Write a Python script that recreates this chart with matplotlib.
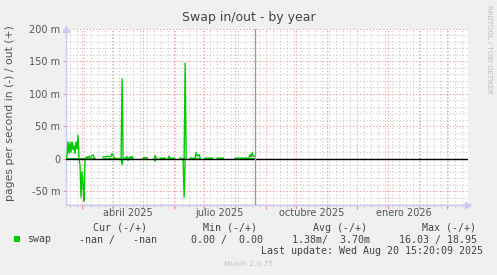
import numpy as np
import pandas as pd
import matplotlib.pyplot as plt
import matplotlib.dates as mdates
import matplotlib.transforms as mtrans
from matplotlib.patches import Rectangle

W, H = 497, 275
nan = np.nan

# daily points, nan = no data
dates = ['2025-02-13', '2025-02-14', '2025-02-15', '2025-02-16', '2025-02-17', '2025-02-18',
         '2025-02-19', '2025-02-20', '2025-02-21', '2025-02-22', '2025-02-23', '2025-02-24',
         '2025-02-25', '2025-02-26', '2025-02-27', '2025-02-28', '2025-03-01', '2025-03-02',
         '2025-03-03', '2025-03-04', '2025-03-05', '2025-03-06', '2025-03-07', '2025-03-08',
         '2025-03-09', '2025-03-10', '2025-03-11', '2025-03-12', '2025-03-13', '2025-03-14',
         '2025-03-18',
         '2025-03-22', '2025-03-24', '2025-03-26', '2025-03-28', '2025-03-30', '2025-03-31',
         '2025-04-02', '2025-04-03', '2025-04-05', '2025-04-08', '2025-04-09', '2025-04-10',
         '2025-04-11', '2025-04-12', '2025-04-13', '2025-04-15', '2025-04-16', '2025-04-17',
         '2025-04-18', '2025-04-19', '2025-04-20', '2025-04-21',
         '2025-04-25',
         '2025-05-01', '2025-05-03', '2025-05-05',
         '2025-05-08',
         '2025-05-12', '2025-05-13', '2025-05-14', '2025-05-15',
         '2025-05-16',
         '2025-05-18', '2025-05-21', '2025-05-23',
         '2025-05-24',
         '2025-05-26', '2025-05-27', '2025-05-28',
         '2025-05-29',
         '2025-05-30', '2025-06-01',
         '2025-06-04',
         '2025-06-07', '2025-06-10', '2025-06-11', '2025-06-12', '2025-06-13',
         '2025-06-15',
         '2025-06-17', '2025-06-20', '2025-06-22', '2025-06-23', '2025-06-24', '2025-06-25',
         '2025-06-26', '2025-06-27',
         '2025-06-30',
         '2025-07-02', '2025-07-09',
         '2025-07-11',
         '2025-07-14', '2025-07-20',
         '2025-07-25',
         '2025-08-01', '2025-08-13', '2025-08-14', '2025-08-15', '2025-08-16', '2025-08-17',
         '2025-08-18', '2025-08-19', '2025-08-20']

# swap out (+), milli pages per second
swap_out = [0, 4, 26, 8, 25, 10, 26, 14, 20, 8, 26, 15,
            36, 0, 0, 0, 0, 0, 0, 0, 2, 3, 2, 4,
            2, 3, 5, 6, 2, 0,
            nan,
            3, 3, 4, 3, 4, 8,
            2, 1, 0, 0, 0, 123,
            0, 0, 1, 3.5, 0, 1,
            3, 1, 3.5, 0,
            nan,
            1.5, 1.5, 1.5,
            nan,
            0, 5, 2, 0,
            nan,
            1, 1, 1,
            nan,
            1, 4, 1,
            nan,
            1, 1,
            nan,
            1, 0, 0, 147, 0,
            nan,
            1, 1, 1, 9.7, 4, 5,
            6.6, 1,
            nan,
            1, 1,
            nan,
            1, 1,
            nan,
            1, 1, 1, 2, 6.6, 3,
            9.5, 4, 4]

# swap in (-), drawn below zero
swap_in = [0, 0, 0, 0, 0, 0, 0, 0, 0, 0, 0, 0,
           0, 0, 10, 59, 20, 40, 65, 0, 0, 0, 0, 0,
           0, 0, 0, 0, 0, 0,
           nan,
           0, 0, 0, 0, 0, 0,
           0, 0, 0, 0, 0, 9,
           0, 0, 0, 0, 2.5, 0,
           0, 0, 0, 0,
           nan,
           0, 0, 0,
           nan,
           0, 3.6, 0, 0,
           nan,
           0, 0, 0,
           nan,
           0, 0, 0,
           nan,
           0, 0,
           nan,
           0, 0, 59, 0, 0,
           nan,
           0, 0, 0, 0, 0, 0,
           0, 0,
           nan,
           0, 0,
           nan,
           0, 0,
           nan,
           0, 0, 0, 0, 0, 0,
           0, 0, 0]

x_start, x_end = '2025-02-13', '2026-03-21 12:00'
now = '2025-08-20 15:20'
month_labels = ['abril 2025', 'julio 2025', 'octubre 2025', 'enero 2026']
month_label_dates = ['2025-04-16', '2025-07-16', '2025-10-16', '2026-01-16']
y_ticks = [-50, 0, 50, 100, 150, 200]
y_labels = ['-50 m', '0', '50 m', '100 m', '150 m', '200 m']

headers = ['Cur (-/+)', 'Min (-/+)', 'Avg (-/+)', 'Max (-/+)']
row = ['-nan /   -nan', '0.00 /  0.00', '1.38m/  3.70m', '16.03 / 18.95']

green = '#00CC00'
t = pd.to_datetime(dates)

fig = plt.figure(figsize=(W / 100, H / 100), dpi=100, facecolor='#F0F0F0')
ax = fig.add_axes([66 / W, 1 - 205 / H, (468 - 66) / W, (205 - 28.5) / H])
ax.set_facecolor('white')

ax.plot(t, swap_out, color=green, lw=1.0, zorder=3)
ax.plot(t, -np.array(swap_in), color=green, lw=1.0, zorder=3)
ax.axhline(0, color='black', lw=1.0, zorder=4)
ax.axvline(pd.Timestamp(now), color='#999999', lw=1.0, zorder=4)

ax.set_xlim(pd.Timestamp(x_start), pd.Timestamp(x_end))
ax.set_ylim(-71, 200)

ax.xaxis.set_major_locator(mdates.MonthLocator())
ax.xaxis.set_minor_locator(mdates.WeekdayLocator(byweekday=mdates.MO))
ax.xaxis.set_major_formatter(plt.NullFormatter())
ax.set_yticks(y_ticks)
ax.set_yticklabels(y_labels)
ax.set_yticks(np.arange(-70, 201, 10), minor=True)

dot = (0, (1, 2))
ax.grid(which='major', color='#F09090', lw=0.8, linestyle=dot, zorder=1)
ax.grid(which='minor', color='#C8C8C8', lw=0.8, linestyle=dot, zorder=1)
ax.set_axisbelow(True)

for s in ['top', 'right']:
    ax.spines[s].set_visible(False)
for s in ['left', 'bottom']:
    ax.spines[s].set_color('#C8CCF4')
    ax.spines[s].set_linewidth(1.0)

ax.tick_params(axis='y', which='major', length=2, color='#F09090', labelsize=7,
               labelcolor='#555555', pad=2)
ax.tick_params(axis='y', which='minor', length=0)
ax.tick_params(axis='x', which='major', length=3, color='#F09090')
ax.tick_params(axis='x', which='minor', length=2, color='#CFCFCF')

# axis arrows
ax.plot([0], [1.0], marker='^', ms=4, color='#C8CCF4', transform=ax.transAxes,
        clip_on=False, zorder=5)
ax.plot([1.0], [0], marker='>', ms=4, color='#C8CCF4', transform=ax.transAxes,
        clip_on=False, zorder=5)

trans = mtrans.blended_transform_factory(ax.transData, fig.transFigure)
for d, lab in zip(month_label_dates, month_labels):
    ax.text(pd.Timestamp(d), 1 - 212.5 / H, lab, transform=trans, ha='center', va='center',
            fontsize=7, color='#555555')

fig.text(0.5, 1 - 18 / H, 'Swap in/out - by year', ha='center', va='center',
         fontsize=9, color='#444444')
fig.text(10 / W, 1 - 113 / H, 'pages per second in (-) / out (+)', rotation=90,
         ha='center', va='center', fontsize=7.8, color='#555555')
fig.text(489 / W, 1 - 5 / H, 'RRDTOOL / TOBI OETIKER', rotation=270, ha='center',
         va='top', fontsize=5, color='#BBBBBB')

mono = dict(family='DejaVu Sans Mono', fontsize=7.2, color='#444444', va='center')
for h, xr in zip(headers, [147, 257, 367, 476]):
    fig.text(xr / W, 1 - 228 / H, h, ha='right', **mono)
for v, xr in zip(row, [157, 263, 370, 477]):
    fig.text(xr / W, 1 - 239.5 / H, v, ha='right', **mono)
fig.text(27 / W, 1 - 239.5 / H, 'swap', ha='left', **mono)
fig.patches.append(Rectangle((14 / W, 1 - 242 / H), 6 / W, 6 / H, transform=fig.transFigure,
                             facecolor=green, edgecolor='none'))
fig.text(483 / W, 1 - 251.5 / H, 'Last update: Wed Aug 20 15:20:09 2025', ha='right', **mono)
fig.text(248 / W, 1 - 264.5 / H, 'Munin 2.0.75', ha='center', va='center', fontsize=5.4,
         color='#C4C4C4')

fig.savefig('out.png', dpi=100, facecolor=fig.get_facecolor())
